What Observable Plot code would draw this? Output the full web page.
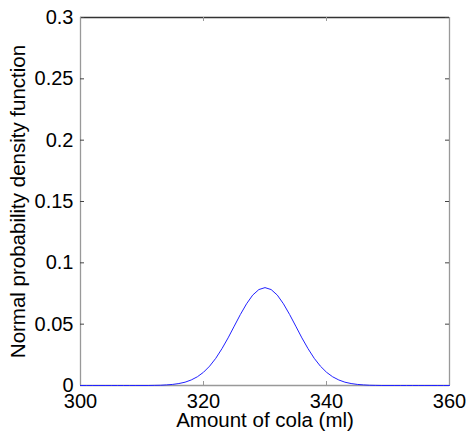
<!DOCTYPE html>
<html>
<head>
<meta charset="utf-8">
<script src="https://cdn.jsdelivr.net/npm/d3@7"></script>
<script src="https://cdn.jsdelivr.net/npm/@observablehq/plot@0.6"></script>
<style>
  html, body { margin: 0; padding: 0; background: #fff; }
  svg { display: block; }
</style>
</head>
<body>
<div id="chart"></div>
<script>
// Data
const colaMl = [300,301,302,303,304,305,306,307,308,309,310,311,312,313,314,315,316,317,318,319,320,
  321,322,323,324,325,326,327,328,329,330,331,332,333,334,335,336,337,338,339,340,
  341,342,343,344,345,346,347,348,349,350,351,352,353,354,355,356,357,358,359,360];
const density = [0,0,0,0,0,0,0,0,0,0,0,0,0.0001,0.0002,0.0005,0.0009,0.0016,0.0027,0.0045,0.0071,0.0108,
  0.0158,0.0222,0.0300,0.0388,0.0484,0.0579,0.0666,0.0737,0.0782,0.0798,0.0782,0.0737,0.0666,0.0579,0.0484,0.0388,0.0300,0.0222,0.0158,0.0108,
  0.0071,0.0045,0.0027,0.0016,0.0009,0.0005,0.0002,0.0001,0,0,0,0,0,0,0,0,0,0,0,0];
const xTicks = [300, 320, 340, 360];
const yTicks = [0, 0.05, 0.1, 0.15, 0.2, 0.25, 0.3];
const xDomain = [300, 360];
const yDomain = [0, 0.3];
const xLabel = "Amount of cola (ml)";
const yLabel = "Normal probability density function";

const data = colaMl.map((x, i) => ({x, y: density[i]}));

const W = 469, H = 435;
const mL = 80, mR = 20, mT = 17, mB = 50;
const innerW = W - mL - mR, innerH = H - mT - mB;
const tick = 4;

const chart = Plot.plot({
  width: W,
  height: H,
  marginLeft: mL,
  marginRight: mR,
  marginTop: mT,
  marginBottom: mB,
  style: {fontFamily: "'Liberation Sans', Arial, sans-serif", fontSize: "20px", color: "#000", background: "#fff"},
  x: {domain: xDomain},
  y: {domain: yDomain},
  marks: [
    // box
    Plot.ruleY([yDomain[1]], {stroke: "#333", strokeWidth: 1.3}),
    Plot.ruleY([yDomain[0]], {stroke: "#999", strokeWidth: 1.3}),
    Plot.ruleX([xDomain[0]], {stroke: "#999", strokeWidth: 1.3}),
    Plot.ruleX([xDomain[1]], {stroke: "#999", strokeWidth: 1.3}),
    // inward ticks
    Plot.tickY(yTicks, {y: d => d, stroke: "#444", insetRight: innerW - tick}),
    Plot.tickY(yTicks, {y: d => d, stroke: "#444", insetLeft: innerW - tick}),
    Plot.tickX(xTicks, {x: d => d, stroke: "#999", insetTop: innerH - tick}),
    Plot.tickX(xTicks, {x: d => d, stroke: "#999", insetBottom: innerH - tick}),
    // axes labels
    Plot.axisY({ticks: yTicks, tickFormat: d => String(d), tickSize: 0, tickPadding: 7, fontSize: 20, label: null}),
    Plot.axisX({ticks: xTicks, tickFormat: d => String(d), tickSize: 0, tickPadding: 8, fontSize: 20, label: null}),
    Plot.text([xLabel], {frameAnchor: "bottom", text: d => d, dy: 35, textAnchor: "middle", lineAnchor: "middle", fontSize: 20.5, fill: "#000"}),
    Plot.text([yLabel], {frameAnchor: "left", text: d => d, dx: -62, rotate: -90, textAnchor: "middle", lineAnchor: "middle", fontSize: 20.5, fill: "#000"}),
    // curve
    Plot.line(data, {x: "x", y: "y", stroke: "#2222ff", strokeWidth: 1})
  ]
});
document.getElementById("chart").appendChild(chart);
</script>
</body>
</html>
